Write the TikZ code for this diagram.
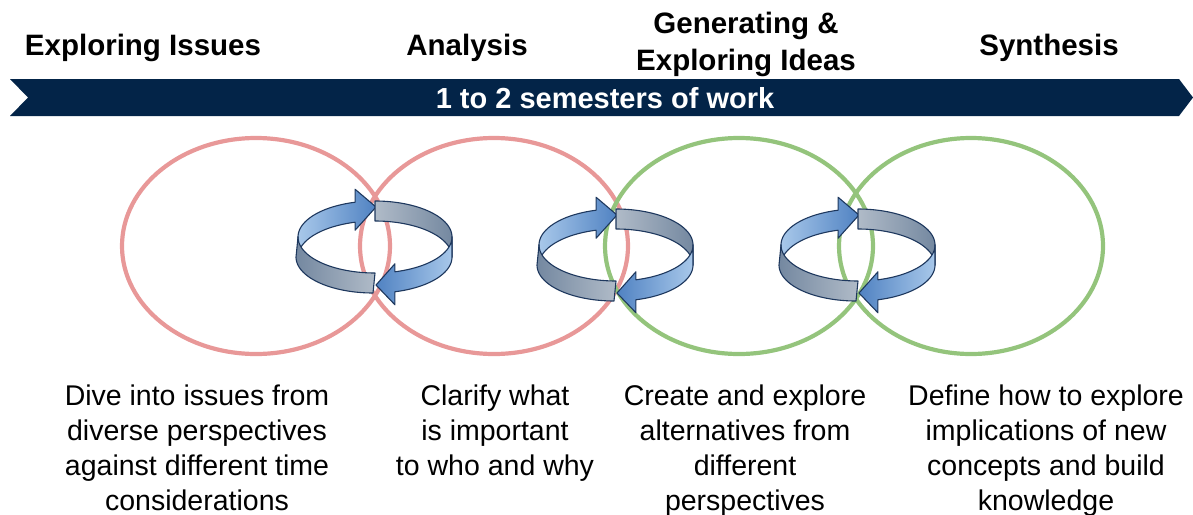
\documentclass[tikz,border=0pt]{standalone}
\usepackage{fontspec}
\setmainfont{Liberation Sans}
\begin{document}
\definecolor{navy}{RGB}{3,36,72}
\definecolor{ringred}{RGB}{232,152,152}
\definecolor{ringgreen}{RGB}{148,196,124}
\definecolor{edgeblue}{RGB}{30,56,94}
\definecolor{bluelight}{RGB}{168,200,234}
\definecolor{bluedark}{RGB}{80,130,194}
\definecolor{graylight}{RGB}{176,187,200}
\definecolor{graydark}{RGB}{116,136,160}
\tikzset{
  phase/.style={font=\bfseries\fontsize{29.5}{37}\selectfont, align=center, anchor=base},
  blurb/.style={font=\fontsize{28.5}{35}\selectfont, align=center, anchor=base},
  loopred/.style={draw=ringred, line width=4.2pt},
  loopgreen/.style={draw=ringgreen, line width=4.2pt},
  ribbonedge/.style={draw=edgeblue, line width=1.1pt, line join=round},
}
% one rotating ring of two arrows and two plain bands
% #1 = centre x, #2 = centre y of the upper rim
\newcommand\ringcycle[2]{%
  \def\rcX{#1}\def\rcY{#2}%
  \def\rcA{77}\def\rcB{36}\def\rcH{20}%
  \def\rcTa{105}\def\rcTb{285}%
  % back left: arrow running up to the top
  \path[ribbonedge, left color=bluelight, right color=bluedark]
    plot[domain=180:\rcTa, samples=40] ({\rcX+\rcA*cos(\x)},{\rcY-\rcB*sin(\x)})
    -- ({\rcX+\rcA*cos(\rcTa)},{\rcY-\rcB*sin(\rcTa)-13})
    -- ({\rcX+1},{\rcY-\rcB+\rcH/2-4})
    -- ({\rcX+\rcA*cos(\rcTa)},{\rcY+\rcH-\rcB*sin(\rcTa)+8})
    -- plot[domain=\rcTa:180, samples=40] ({\rcX+\rcA*cos(\x)},{\rcY+\rcH-\rcB*sin(\x)})
    -- cycle;
  % back right: plain band
  \path[ribbonedge, left color=graylight, right color=graydark]
    plot[domain=90:0, samples=40] ({\rcX+\rcA*cos(\x)},{\rcY-\rcB*sin(\x)})
    -- plot[domain=0:90, samples=40] ({\rcX+\rcA*cos(\x)},{\rcY+\rcH-\rcB*sin(\x)})
    -- cycle;
  % front left: plain band
  \path[ribbonedge, left color=graydark, right color=graylight]
    plot[domain=180:270, samples=40] ({\rcX+\rcA*cos(\x)},{\rcY-\rcB*sin(\x)})
    -- plot[domain=270:180, samples=40] ({\rcX-2+\rcA*cos(\x)},{\rcY+\rcH-\rcB*sin(\x)})
    -- cycle;
  % front right: arrow running down to the bottom
  \path[ribbonedge, left color=bluedark, right color=bluelight]
    plot[domain=360:\rcTb, samples=40] ({\rcX+\rcA*cos(\x)},{\rcY-\rcB*sin(\x)})
    -- ({\rcX+\rcA*cos(\rcTb)},{\rcY-\rcB*sin(\rcTb)-8})
    -- ({\rcX+1},{\rcY+\rcB+\rcH/2+2})
    -- ({\rcX+\rcA*cos(\rcTb)},{\rcY+\rcH-\rcB*sin(\rcTb)+13})
    -- plot[domain=\rcTb:360, samples=40] ({\rcX+\rcA*cos(\x)},{\rcY+\rcH-\rcB*sin(\x)})
    -- cycle;
}
\begin{tikzpicture}[x=1pt, y=-1pt]
  \useasboundingbox (0,0) rectangle (1193,514);

  % phase titles (base = baseline of the last line)
  \node[phase] (explore) at (143,55) {Exploring Issues};
  \node[phase] (analysis) at (467,55) {Analysis};
  \node[phase] (ideas) at (746,70) {Generating \&\\Exploring Ideas};
  \node[phase] (synth) at (1049,55) {Synthesis};

  % timeline banner
  \fill[navy] (10,79) -- (1179,79) -- (1193,97.5) -- (1179,116) -- (10,116) -- (28,97.5) -- cycle;
  \node[font=\bfseries\fontsize{29}{35}\selectfont, text=white, anchor=base] (span) at (605,108) {1 to 2 semesters of work};

  % overlapping phase loops
  \draw[loopred]   (256,246) ellipse [x radius=134, y radius=108];
  \draw[loopred]   (494,246) ellipse [x radius=134, y radius=108];
  \draw[loopgreen] (739,246) ellipse [x radius=134, y radius=108];
  \draw[loopgreen] (971,246) ellipse [x radius=132, y radius=108];

  % iteration rings between neighbouring phases
  \ringcycle{375}{237}
  \ringcycle{616}{245}
  \ringcycle{858}{245}

  % phase descriptions (base = baseline of the last line)
  \node[blurb] (d1) at (197,510) {Dive into issues from\\diverse perspectives\\against different time\\considerations};
  \node[blurb] (d2) at (495,475) {Clarify what\\is important\\to who and why};
  \node[blurb] (d3) at (745,510) {Create and explore\\alternatives from\\different\\perspectives};
  \node[blurb] (d4) at (1046,510) {Define how to explore\\implications of new\\concepts and build\\knowledge};
\end{tikzpicture}
\end{document}
